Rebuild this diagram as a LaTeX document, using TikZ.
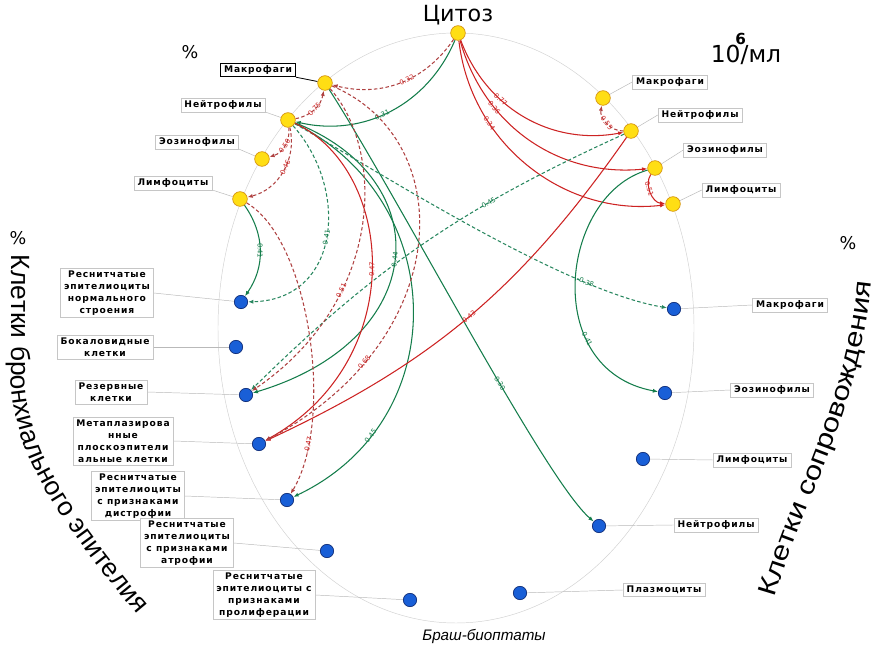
\documentclass[tikz,border=0pt]{standalone}
\usepackage{fontspec}
\setmainfont{DejaVu Sans}
\newfontfamily\labfont[LetterSpace=10]{DejaVu Sans}
\newfontfamily\sidefont{Liberation Sans}
\newfontfamily\sidefontw[FakeStretch=1.2]{Liberation Sans}
\usetikzlibrary{arrows.meta,decorations.text}
\definecolor{rc}{RGB}{205,35,35}
\definecolor{rdc}{RGB}{175,65,65}
\definecolor{gc}{RGB}{20,125,75}
\definecolor{gdc}{RGB}{40,135,95}
\definecolor{yfill}{RGB}{255,222,20}
\definecolor{ydraw}{RGB}{215,150,20}
\definecolor{bfill}{RGB}{25,95,215}
\definecolor{bdraw}{RGB}{15,45,120}
\pgfdeclarelayer{bg}
\pgfsetlayers{bg,main}
\begin{document}
\begin{tikzpicture}[x=0.3mm,y=0.3mm,
 ycell/.style={circle,draw=ydraw,fill=yfill,line width=0.6pt,minimum size=4.4mm,inner sep=0pt},
 bcell/.style={circle,draw=bdraw,fill=bfill,line width=0.6pt,minimum size=4mm,inner sep=0pt},
 lab/.style={draw=gray!45,line width=0.4pt,fill=white,align=center,inner xsep=3pt,inner ysep=2pt,font=\labfont\bfseries\fontsize{7.8}{10.3}\selectfont},
 lead/.style={draw=gray!55,line width=0.4pt},
 arrtip/.style={-{Latex[length=4.5pt,width=3.5pt]}},
 rs/.style={arrtip,draw=rc,line width=0.9pt},
 rd/.style={arrtip,draw=rdc,line width=0.9pt,dash pattern=on 3pt off 2pt},
 gs/.style={arrtip,draw=gc,line width=0.9pt},
 gd/.style={arrtip,draw=gdc,line width=0.9pt,dash pattern=on 3pt off 2pt},
 rl/.style={sloped,text=rc,font=\fontsize{5.8}{6}\selectfont,inner sep=0.5pt},
 gl/.style={sloped,text=gc,font=\fontsize{5.8}{6}\selectfont,inner sep=0.5pt},
 big/.style={font=\fontsize{19}{19}\selectfont}
]
\useasboundingbox (0,0) rectangle (876,653);
\begin{pgfonlayer}{bg}
\fill[white] (0,0) rectangle (876,653);
\draw[gray!35,line width=0.4pt] (456,325) ellipse [x radius=238, y radius=295];
\end{pgfonlayer}

% cells
\node[ycell] (citoz) at (458,620) {};
\node[ycell] (lmac) at (325,570) {};
\node[ycell] (lneu) at (288,533) {};
\node[ycell] (leos) at (262,494) {};
\node[ycell] (llym) at (240,454) {};
\node[ycell] (rmac) at (603,555) {};
\node[ycell] (rneu) at (631,522) {};
\node[ycell] (reos) at (655,485) {};
\node[ycell] (rlym) at (673,449) {};
\node[bcell] (bnorm) at (241,351) {};
\node[bcell] (bgob) at (236,306) {};
\node[bcell] (bres) at (246,258) {};
\node[bcell] (bmet) at (259,209) {};
\node[bcell] (bdys) at (287,153) {};
\node[bcell] (batr) at (327,102) {};
\node[bcell] (bpro) at (410,53) {};
\node[bcell] (bpla) at (520,60) {};
\node[bcell] (brneu) at (599,127) {};
\node[bcell] (brlym) at (643,194) {};
\node[bcell] (breos) at (665,260) {};
\node[bcell] (brmac) at (674,344) {};

% labels
\node[lab,draw=black,line width=0.8pt] (lmacL) at (258,583) {Макрофаги};
\node[lab] (lneuL) at (223,548) {Нейтрофилы};
\node[lab] (leosL) at (197,511) {Эозинофилы};
\node[lab] (llymL) at (173,470) {Лимфоциты};
\node[lab] (rmacL) at (670,571) {Макрофаги};
\node[lab] (rneuL) at (700,538) {Нейтрофилы};
\node[lab] (reosL) at (725,503) {Эозинофилы};
\node[lab] (rlymL) at (741,463) {Лимфоциты};
\node[lab] (normL) at (107,360) {Реснитчатые\\эпителиоциты\\нормального\\строения};
\node[lab] (gobL) at (105,306) {Бокаловидные\\клетки};
\node[lab] (resL) at (111,261) {Резервные\\клетки};
\node[lab] (metL) at (123,212) {Метаплазирова\\нные\\плоскоэпители\\альные клетки};
\node[lab] (dysL) at (138,157) {Реснитчатые\\эпителиоциты\\с признаками\\дистрофии};
\node[lab] (atrL) at (187,110) {Реснитчатые\\эпителиоциты\\с признаками\\атрофии};
\node[lab] (proL) at (264,58) {Реснитчатые\\эпителиоциты с\\признаками\\пролиферации};
\node[lab] (brmacL) at (790,348) {Макрофаги};
\node[lab] (breosL) at (772,263) {Эозинофилы};
\node[lab] (brlymL) at (752,193) {Лимфоциты};
\node[lab] (brneuL) at (716,128) {Нейтрофилы};
\node[lab] (plaL) at (664,63) {Плазмоциты};

% titles
\node[big] (citozT) at (458,638) {Цитоз};
\node[font=\fontsize{15}{15}\selectfont] (pct1) at (190,601) {\%};
\node[font=\fontsize{15}{15}\selectfont] (pct2) at (18,415) {\%};
\node[font=\fontsize{15}{15}\selectfont] (pct3) at (848,410) {\%};
\node[font=\fontsize{20}{20}\selectfont] (unit) at (746,604) {10\makebox[0pt]{\raisebox{0.8em}{\bfseries\fontsize{13}{13}\selectfont 6}}/мл};
\node[font=\sidefont\itshape\fontsize{13}{13}\selectfont] (brash) at (484,17) {Браш-биоптаты};
\path[decorate,decoration={text along path,text align=left,
  text={|\sidefont\fontsize{22.5}{22.5}\selectfont|Клетки бронхиального эпителия}}]
  (11,398) -- (11,283) .. controls (11,203) and (50,140) .. (158,14);
\path[decorate,decoration={text along path,text align=left,
  text={|\sidefontw\fontsize{22}{22}\selectfont|Клетки сопровождения}}]
  (775,55) .. controls (805,160) and (866,250) .. (874,400);

\begin{pgfonlayer}{bg}
% leaders
\draw[black,line width=0.7pt] (lmacL.south east) -- (lmac);
\draw[lead] (lneuL.south east) -- (lneu);
\draw[lead] (leosL.south east) -- (leos);
\draw[lead] (llymL.south east) -- (llym);
\draw[lead] (rmac) -- (rmacL.west);
\draw[lead] (rneu) -- (rneuL.west);
\draw[lead] (reos) -- (reosL.west);
\draw[lead] (rlym) -- (rlymL.west);
\draw[lead] (bnorm) -- (normL.east);
\draw[lead] (bgob) -- (gobL.east);
\draw[lead] (bres) -- (resL.east);
\draw[lead] (bmet) -- (metL.east);
\draw[lead] (bdys) -- (dysL.east);
\draw[lead] (batr) -- (atrL.east);
\draw[lead] (bpro) -- (proL.east);
\draw[lead] (bpla) -- (plaL.west);
\draw[lead] (brmac) -- (brmacL.west);
\draw[lead] (breos) -- (breosL.west);
\draw[lead] (brlym) -- (brlymL.west);
\draw[lead] (brneu) -- (brneuL.west);

% correlations
\draw[rd] (citoz) to[bend left=35] node[rl,pos=0.45]{0.32} (lmac);
\draw[gs] (citoz) to[bend left=40] node[gl,pos=0.55]{0.31} (lneu);
\draw[rs] (citoz) to[bend right=40] node[rl,pos=0.35]{0.77} (rneu);
\draw[rs] (citoz) to[bend right=40] node[rl,pos=0.3]{0.36} (reos);
\draw[rs] (citoz) to[bend right=45] node[rl,pos=0.3]{0.34} (rlym);
\draw[rd] (rneu) to[bend left=50] node[rl,pos=0.5]{0.55} (rmac);
\draw[rs] (reos) to[bend right=60] node[rl,pos=0.4]{0.51} (rlym);
\draw[rd] (lneu) to[bend right=35] node[rl]{0.75} (lmac);
\draw[rd] (lneu) to[bend left=40] node[rl]{0.50} (leos);
\draw[rd] (lneu) to[bend left=45] node[rl,pos=0.45]{0.46} (llym);
\draw[gs] (llym) to[bend left=35] node[gl]{0.41} (bnorm);
\draw[gd] (lneu) .. controls (350,463) and (340,353) .. node[gl,pos=0.5]{0.41} (bnorm);
\draw[gs] (lneu) .. controls (440,473) and (430,313) .. node[gl,pos=0.5]{0.44} (bres);
\draw[gs] (lneu) .. controls (450,453) and (455,233) .. node[gl,pos=0.8]{0.45} (bdys);
\draw[gs] (lmac) .. controls (400,453) and (545,173) .. node[gl,pos=0.6]{0.30} (brneu);
\draw[gd] (lneu) .. controls (360,493) and (560,363) .. node[gl,pos=0.78]{-0.38} (brmac);
\draw[gs] (reos) .. controls (560,458) and (540,283) .. node[gl,pos=0.7]{0.41} (breos);
\draw[gd] (rneu) to[bend right=10] node[gl,pos=0.32]{0.45} (bres);
\draw[rs] (rneu) to[bend left=15] node[rl,pos=0.5]{0.43} (bmet);
\draw[rs] (lneu) .. controls (395,483) and (410,293) .. node[rl,pos=0.5]{0.47} (bmet);
\draw[rd] (lmac) .. controls (460,513) and (455,313) .. node[rl,pos=0.78]{0.68} (bmet);
\draw[rd] (llym) .. controls (310,413) and (335,233) .. node[rl,pos=0.82]{-0.47} (bdys);
\draw[rd] (lmac) .. controls (385,503) and (385,353) .. node[rl,pos=0.68]{0.51} (bres);
\end{pgfonlayer}
\end{tikzpicture}
\end{document}
